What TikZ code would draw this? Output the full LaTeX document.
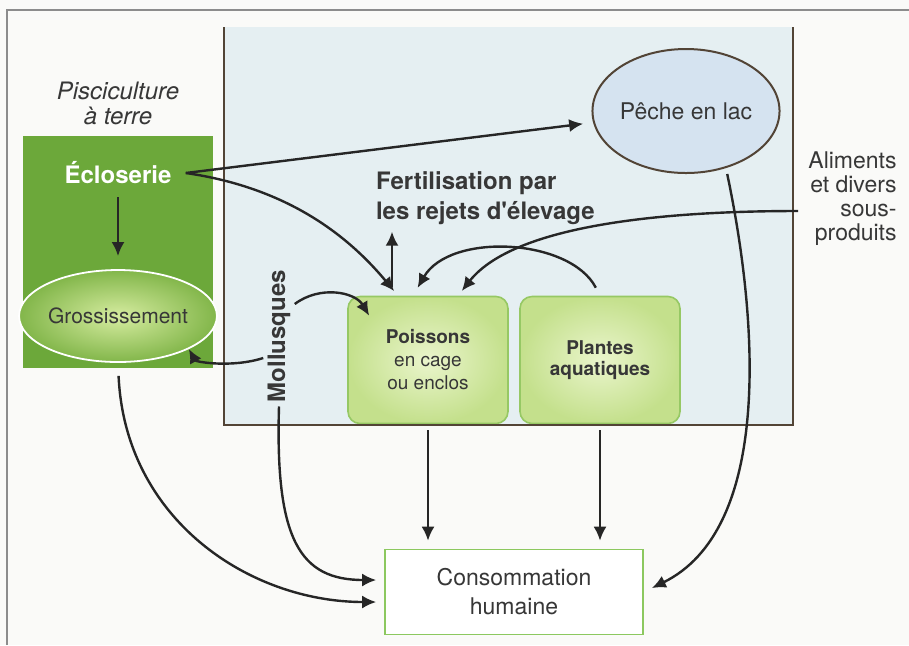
\documentclass[tikz,border=0pt]{standalone}
\usepackage{fontspec}
\setmainfont{TeX Gyre Heros}
\usetikzlibrary{arrows.meta, shapes.geometric, positioning}

\definecolor{inkgray}{RGB}{38,38,38}
\definecolor{textgray}{RGB}{55,55,55}
\definecolor{framegray}{RGB}{140,140,140}
\definecolor{paper}{RGB}{250,250,248}
\definecolor{pondfill}{RGB}{229,239,242}
\definecolor{pondedge}{RGB}{82,68,54}
\definecolor{farmgreen}{RGB}{108,168,58}
\definecolor{growlight}{RGB}{214,236,160}
\definecolor{growouter}{RGB}{130,182,74}
\definecolor{cagelight}{RGB}{234,245,204}
\definecolor{cagefill}{RGB}{196,224,140}
\definecolor{cageedge}{RGB}{150,200,100}
\definecolor{lakelight}{RGB}{213,227,240}
\definecolor{consoedge}{RGB}{140,200,95}

\begin{document}
\begin{tikzpicture}[
  x=0.5pt, y=-0.5pt,
  every node/.style={align=center, text=textgray},
  arrow/.style={-{Latex[length=7pt,width=6.5pt]}, line width=1.2pt, draw=inkgray},
  cagebox/.style={rectangle, rounded corners=6pt, draw=cageedge, line width=0.8pt,
    inner color=cagelight, outer color=cagefill, minimum width=80pt, minimum height=63.5pt},
  lakeoval/.style={ellipse, draw=pondedge, line width=1pt, fill=lakelight, inner sep=0pt,
    minimum width=86pt, minimum height=62pt},
  labelfont/.style={font=\fontsize{11.5}{14.5}\selectfont}
]

% background and page frame
\useasboundingbox (0,0) rectangle (909,645);
\fill[paper] (0,0) rectangle (909,645);
\draw[framegray, line width=0.6pt] (7,645) -- (7,10) -- (909,10);

% the lake
\fill[pondfill] (224,27) rectangle (793,425);

% land farm
\node (farm) [rectangle, fill=farmgreen, minimum width=95pt, minimum height=116pt] at (118,252) {};
\node (pisci) [above=2pt of farm, font=\itshape\fontsize{12}{12.5}\selectfont] {Pisciculture\\à terre};
\node (eclo) [inner xsep=7pt, text=white, font=\bfseries\fontsize{12}{14}\selectfont] at (118,173) {Écloserie};
\node (gross) [ellipse, draw=white, line width=0.9pt, inner color=growlight, outer color=growouter,
  minimum width=85pt, minimum height=46pt, inner sep=0pt, font=\fontsize{10.5}{12}\selectfont] at (118,316) {Grossissement};

% lake productions
\node (peche) [lakeoval, labelfont] at (686,111) {Pêche en lac};
\node (poissons) [cagebox, font=\fontsize{9.5}{11.5}\selectfont] at (428,360) {\textbf{Poissons}\\en cage\\ou enclos};
\node (plantes) [cagebox, font=\bfseries\fontsize{9.5}{10.5}\selectfont] at (600,360) {Plantes\\aquatiques};
\node (moll) [rotate=90, inner sep=2pt, font=\bfseries\fontsize{12}{14}\selectfont] at (279,336) {Mollusques};
\node (fert) [anchor=west, align=left, font=\bfseries\fontsize{12}{15}\selectfont] at (369,198) {Fertilisation par\\les rejets d\textquotesingle élevage};
\node (alim) [anchor=east, align=right, inner sep=0pt, font=\fontsize{11.5}{12}\selectfont] at (897,199) {Aliments\\et divers\\sous-\\produits};
\node (conso) [rectangle, draw=consoedge, line width=0.8pt, fill=white, minimum width=129pt,
  minimum height=42.5pt, labelfont] at (514,592) {Consommation\\humaine};

% lake banks
\draw[pondedge, line width=1.4pt] (224,27) -- (224,425) -- (793,425) -- (793,27);

% flows
\draw[arrow, shorten <=3pt, shorten >=6.5pt] (eclo.south) -- (gross.north);
\draw[arrow, shorten >=5pt] (eclo.east) -- (peche);
\draw[arrow, shorten >=3pt] (eclo.east) .. controls (290,188) and (350,238) .. ([xshift=-15pt]poissons.north);
\draw[arrow, shorten <=4.5pt] ([xshift=-18pt]poissons.north) -- ([xshift=-18pt]poissons.north |- fert.south);
\draw[arrow, shorten <=4.5pt, shorten >=4.5pt] (plantes.north) .. controls (570,238) and (450,232) .. ([xshift=-7.5pt]poissons.north);
\draw[arrow, shorten >=3pt] ([xshift=-5pt,yshift=-6pt]alim.west) .. controls (640,211) and (510,230) .. ([xshift=15pt]poissons.north);
\draw[arrow] ([yshift=16pt]moll.south) .. controls (320,285) and (355,292) .. ([xshift=11pt,yshift=-10pt]poissons.north west);
\draw[arrow] ([yshift=-11pt]moll.north) .. controls (232,368) and (196,362) .. (gross.-25);

% towards human consumption
\draw[arrow, shorten <=6.5pt, shorten >=4pt] (gross.south) .. controls (125,520) and (250,602) .. ([yshift=-5pt]conso.west);
\draw[arrow, shorten >=4pt] (moll.west) .. controls (275,540) and (300,580) .. ([yshift=6pt]conso.west);
\draw[arrow, shorten <=3pt, shorten >=4pt] (poissons.south) -- (poissons.south |- conso.north);
\draw[arrow, shorten <=3pt, shorten >=4pt] (plantes.south) -- (plantes.south |- conso.north);
\draw[arrow, shorten <=3pt, shorten >=4.5pt] (peche.-55) .. controls (760,330) and (770,530) .. (conso.east);

\end{tikzpicture}
\end{document}
